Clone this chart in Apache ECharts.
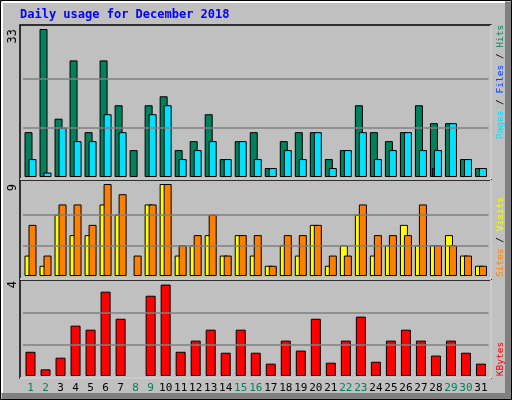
<!DOCTYPE html>
<html><head><meta charset="utf-8">
<script src="https://cdn.jsdelivr.net/npm/echarts@6/dist/echarts.min.js"></script>
<style>html,body{margin:0;padding:0;background:#c0c0c0}#c{width:512px;height:400px}</style>
</head><body><div id="c"></div>
<script>
const days = ['1','2','3','4','5','6','7','8','9','10','11','12','13','14','15','16','17','18','19','20','21','22','23','24','25','26','27','28','29','30','31'];
const weekend = ['1','2','8','9','15','16','22','23','29','30'];
const hits   = [10,33,13,26,10,26,16,6,16,18,6,8,14,4,8,10,2,8,10,10,4,6,16,10,8,10,16,12,12,4,2];
const files  = [4,1,11,8,8,14,10,0,14,16,4,6,8,4,8,4,2,6,4,10,2,6,10,4,6,10,6,6,12,4,2];
const pages  = [0,0,0,0,0,0,0,0,0,0,0,0,0,0,0,0,0,0,0,0,0,0,0,0,0,0,0,2,0,0,0];
const visits = [5,2,7,7,5,9,8,2,7,9,3,4,6,2,4,4,1,4,4,5,2,2,7,4,4,4,7,3,3,2,1];
const sites  = [2,1,6,4,4,7,6,0,7,9,2,3,4,2,4,2,1,3,2,5,1,3,6,2,3,5,3,3,4,2,1];
const kbytes = [1.02,0.28,0.77,2.12,1.95,3.55,2.41,0,3.38,3.85,1.02,1.49,1.95,0.98,1.95,0.98,0.52,1.49,1.07,2.41,0.56,1.49,2.5,0.6,1.49,1.95,1.49,0.86,1.49,0.98,0.52];
const maxTicks = [33, 9, 4];

const nz = (a)=>a.map(v=>v===0?null:v);
const mono = 'DejaVu Sans Mono';
const chart = echarts.init(document.getElementById('c'));
const L = 23, R = 23.5;
const grids = [
  {left:L, right:R, top:29, height:148},
  {left:L, right:R, top:184, height:92},
  {left:L, right:R, top:281, height:95}
];
function xa(i, g){
  return {type:'category', gridIndex:g, data:days, axisLine:{show:false}, axisTick:{show:false},
    axisLabel: i===2 ? {show:true, interval:0, margin:7, fontFamily:mono, fontSize:11,
      color:(v)=>weekend.includes(v)?'#00805c':'#000'} : {show:false}};
}
function ya(i){
  return {type:'value', gridIndex:i, min:0, max:maxTicks[i], interval:maxTicks[i],
    splitLine:{show:false}, axisLine:{show:false}, axisTick:{show:false},
    axisLabel:{show:true, fontFamily:mono, fontSize:12, color:'#000', rotate:90, margin:4,
      formatter:(v)=>v===maxTicks[i]?String(v):'', align:'right', verticalAlign:'bottom'}};
}
function gl(i){
  const m = maxTicks[i];
  return {silent:true, symbol:'none', label:{show:false}, lineStyle:{color:'#808080', type:'solid', width:1.5},
    data:[{yAxis:m/3},{yAxis:2*m/3}]};
}
const bs = (c)=>({color:c, borderColor:'#000', borderWidth:1});
function panel(y1,y2){
  return [
    {type:'rect', shape:{x:20,y:y1,width:471,height:y2-y1}, style:{fill:'#c0c0c0', stroke:'#000', lineWidth:1.5}, z:-10},
    {type:'line', shape:{x1:20,y1:y2,x2:491,y2:y2}, style:{stroke:'#fff', lineWidth:1.5}, z:-9},
    {type:'line', shape:{x1:491,y1:y1,x2:491,y2:y2}, style:{stroke:'#fff', lineWidth:1.5}, z:-9}
  ];
}
function vtext(x,y,rich,text){
  return {type:'text', x:x, y:y, rotation:Math.PI/2,
    style:{text:text, rich:rich, align:'center', verticalAlign:'middle', font:'9.5px '+mono}};
}
chart.setOption({
  animation:false,
  backgroundColor:'#c0c0c0',
  grid:grids,
  xAxis:[xa(0,0),xa(1,1),xa(2,2),xa(3,0)],
  yAxis:[ya(0),ya(1),ya(2)],
  graphic:[
    {type:'rect', shape:{x:0.5,y:0.5,width:511,height:399}, style:{fill:'#c0c0c0', stroke:'#000', lineWidth:1}, z:-20},
    {type:'rect', shape:{x:505,y:2,width:6,height:397}, style:{fill:'#808080'}, z:-19},
    {type:'rect', shape:{x:2,y:393,width:509,height:6}, style:{fill:'#808080'}, z:-19},
    {type:'line', shape:{x1:2,y1:2,x2:505,y2:2}, style:{stroke:'#fff', lineWidth:2}, z:-19},
    {type:'line', shape:{x1:2,y1:2,x2:2,y2:393}, style:{stroke:'#fff', lineWidth:2}, z:-19},
    {type:'text', x:20, y:15, style:{text:'Daily usage for December 2018', font:'bold 12px '+mono, fill:'#0000ff', verticalAlign:'middle'}},
    ...panel(25,179), ...panel(180,279), ...panel(280,378),
    vtext(501,82,{p:{fill:'#00e0ff'},s:{fill:'#000'},f:{fill:'#0040ff'},h:{fill:'#00805c'}},
      '{p|Pages}{s| / }{f|Files}{s| / }{h|Hits}'),
    vtext(501,237,{a:{fill:'#ff8000'},s:{fill:'#000'},b:{fill:'#ffff00'}},'{a|Sites}{s| / }{b|Visits}'),
    vtext(501,359,{k:{fill:'#ff0000'}},'{k|KBytes}')
  ],
  series:[
    {type:'bar', name:'Hits', xAxisIndex:0, yAxisIndex:0, data:nz(hits), barWidth:8, barGap:'-50%', itemStyle:bs('#00805c'), markLine:gl(0), z:2},
    {type:'bar', name:'Pages', xAxisIndex:3, yAxisIndex:0, data:nz(pages), barWidth:8, itemStyle:bs('#0040ff'), z:2},
    {type:'bar', name:'Files', xAxisIndex:0, yAxisIndex:0, data:nz(files), barWidth:8, barGap:'-50%', itemStyle:bs('#00e0ff'), z:3},
    {type:'bar', name:'Sites', xAxisIndex:1, yAxisIndex:1, data:nz(sites), barWidth:8, barGap:'-50%', itemStyle:bs('#ffff00'), markLine:gl(1), z:2},
    {type:'bar', name:'Visits', xAxisIndex:1, yAxisIndex:1, data:nz(visits), barWidth:8, barGap:'-50%', itemStyle:bs('#ff8000'), z:3},
    {type:'bar', name:'KBytes', xAxisIndex:2, yAxisIndex:2, data:nz(kbytes), barWidth:10, itemStyle:bs('#ff0000'), markLine:gl(2), z:2}
  ]
});
</script></body></html>
